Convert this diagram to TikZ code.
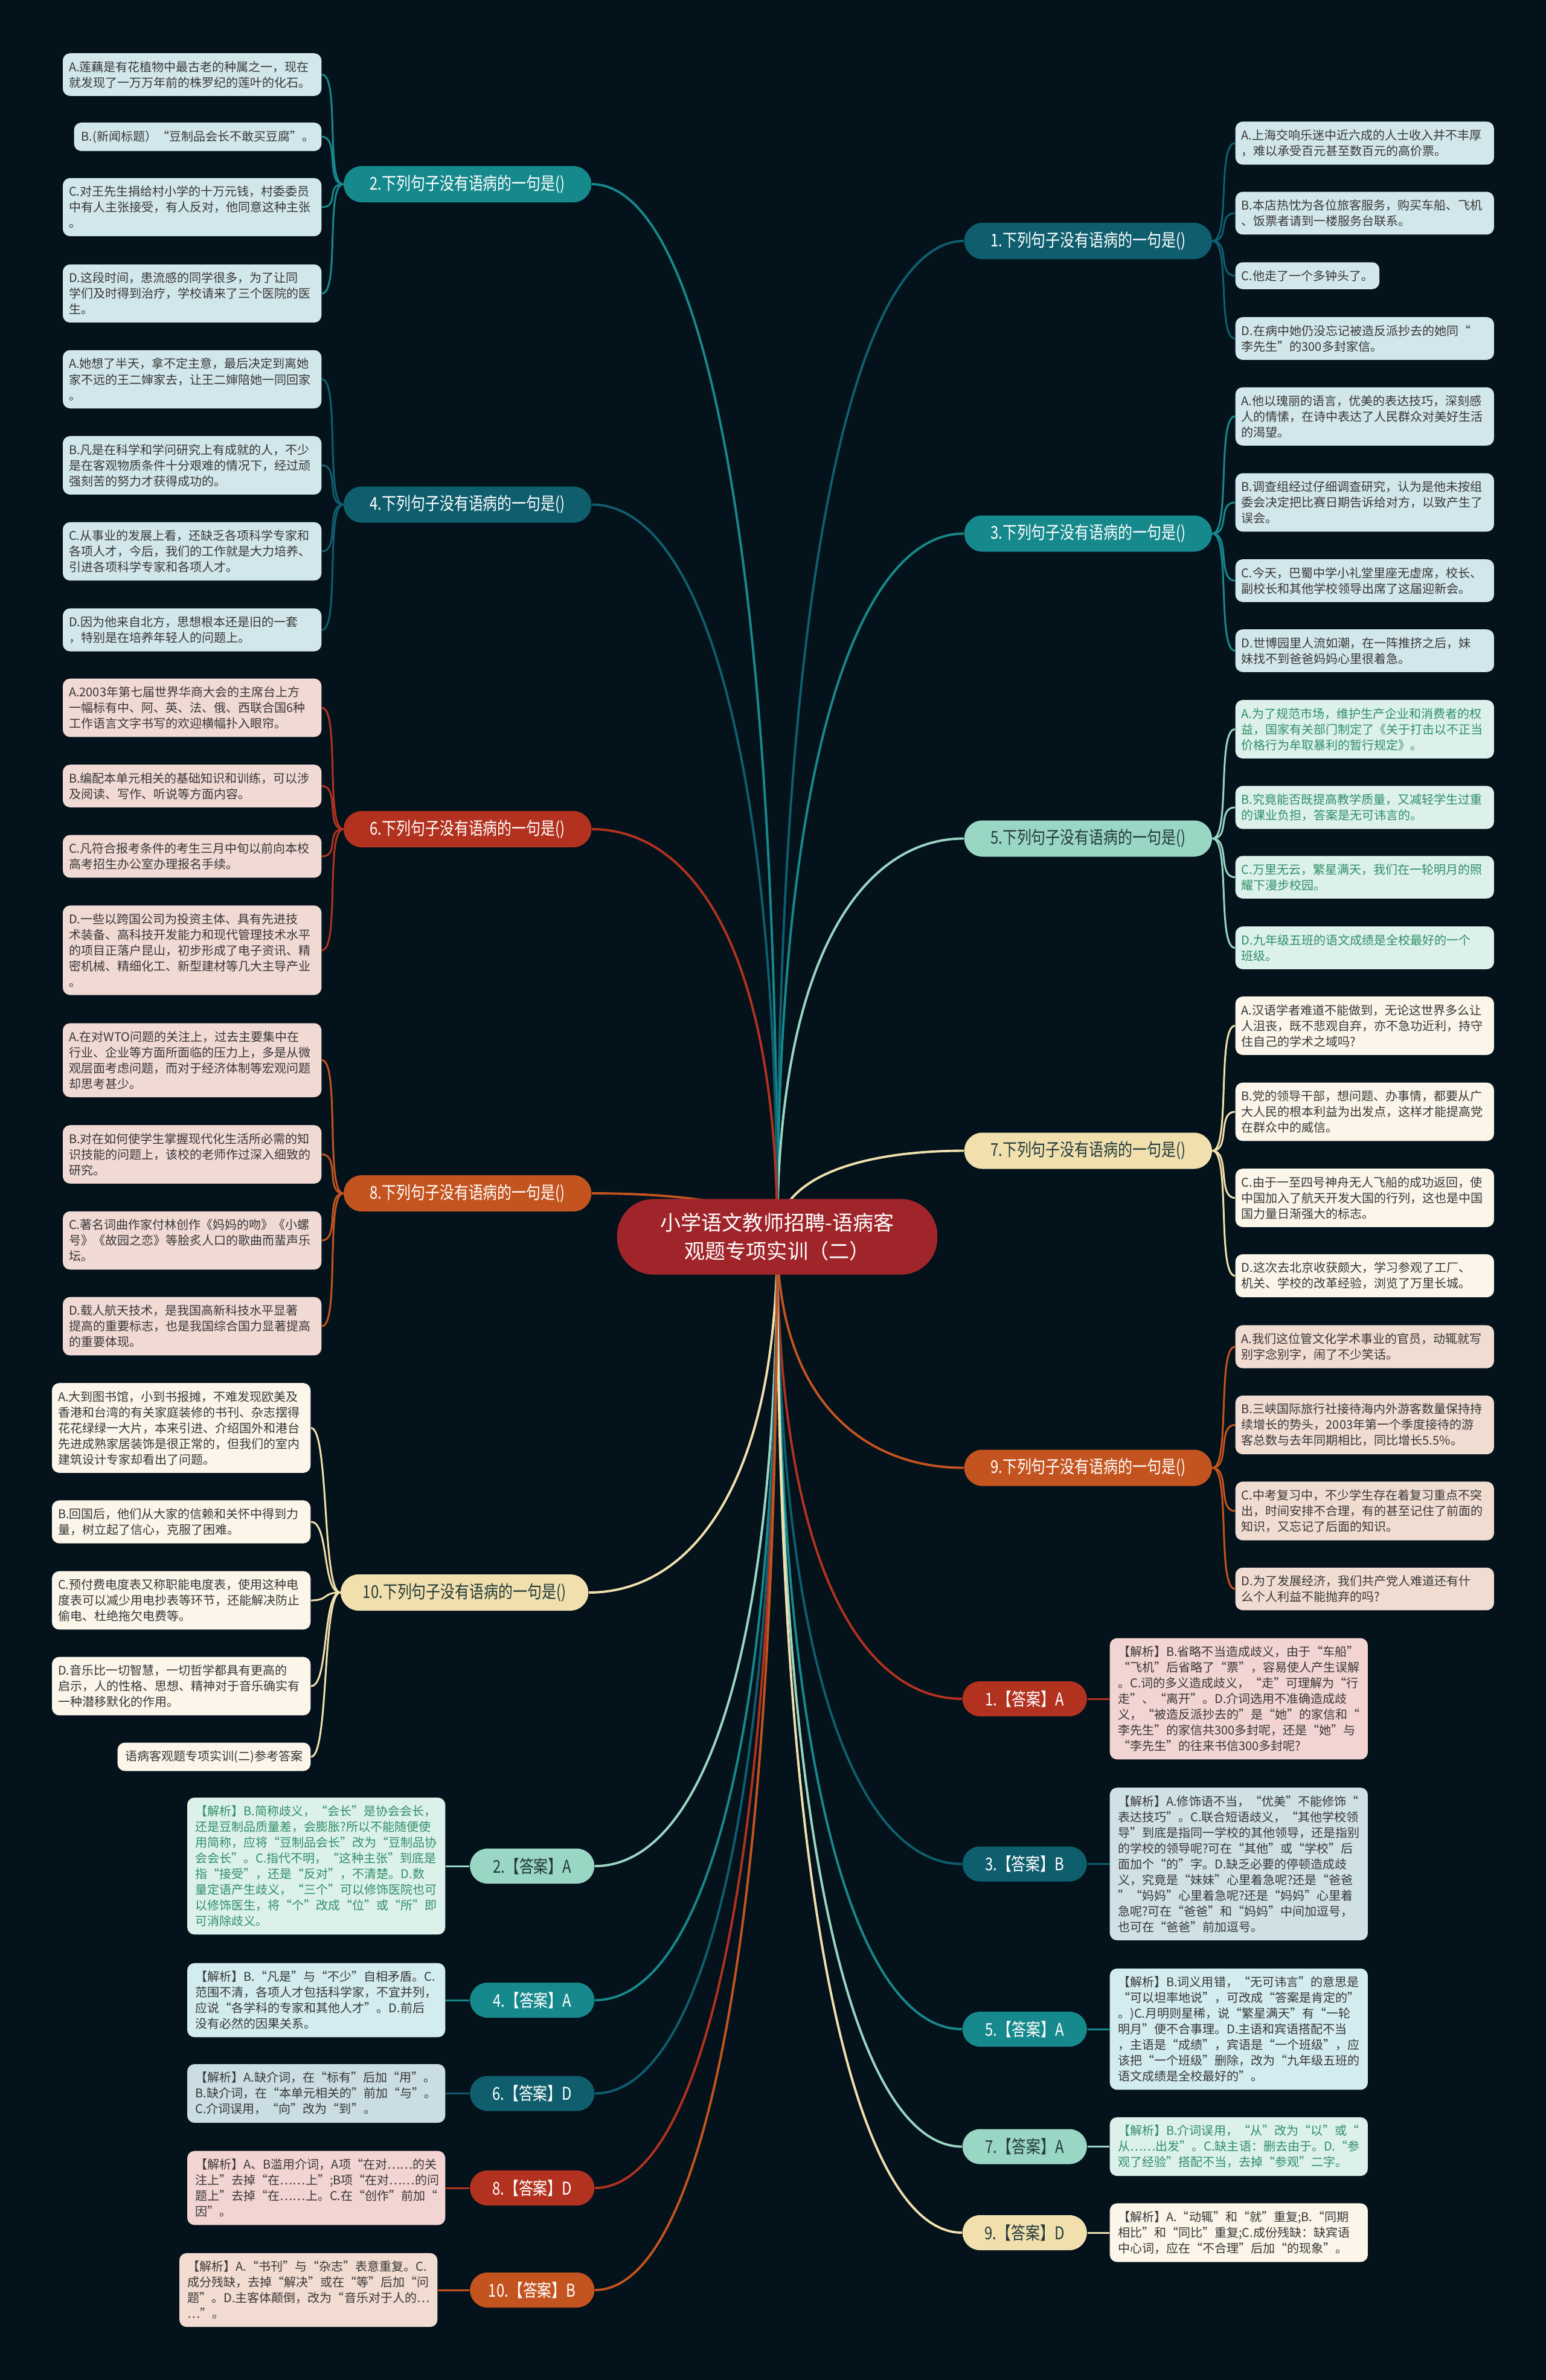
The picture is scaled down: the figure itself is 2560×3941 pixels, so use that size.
\documentclass[tikz,border=0pt]{standalone}
\usepackage{fontspec}
\setmainfont{Noto Sans CJK SC}
\newfontfamily\narrowfont[FakeStretch=0.82]{Noto Sans CJK SC}
\usetikzlibrary{backgrounds}

\definecolor{bgnavy}{HTML}{04121B}
\definecolor{rootred}{HTML}{A0252B}
\definecolor{qdark}{HTML}{0F5E6E}
\definecolor{qteal}{HTML}{16898C}
\definecolor{qmint}{HTML}{9AD6C4}
\definecolor{qbeige}{HTML}{F1E0AE}
\definecolor{qred}{HTML}{B3321F}
\definecolor{qorange}{HTML}{C4541F}
\definecolor{inkdark}{HTML}{243B3A}
\definecolor{inkgrey}{HTML}{383838}
\definecolor{inkgreen}{HTML}{2F8F68}
\definecolor{lfblue}{HTML}{D2E7EB}
\definecolor{lfmint}{HTML}{DDF1EB}
\definecolor{lfpink}{HTML}{F1D9D4}
\definecolor{lfcream}{HTML}{FBF5EA}
\definecolor{lfpeach}{HTML}{F1DCD1}
\definecolor{ntpink}{HTML}{F2D4D2}
\definecolor{ntgrey}{HTML}{CFE1E5}
\definecolor{ntblue}{HTML}{D3ECEF}
\definecolor{ntsteel}{HTML}{C9DDE3}
\definecolor{ntpeach}{HTML}{F2DBD0}

\newcommand{\leaffont}{\fontsize{5.69pt}{7.4pt}\selectfont}
\newcommand{\branchfont}{\narrowfont\fontsize{8.3pt}{10pt}\selectfont}
\newcommand{\rootfont}{\fontsize{9.7pt}{13.4pt}\selectfont}

\begin{document}
\begin{tikzpicture}[x=0.01cm, y=-0.01cm,
  leafbase/.style={rounded corners=0.12cm, inner xsep=0.1cm, inner ysep=0.13cm, align=left, font=\leaffont, text=inkgrey},
  leaf/.style={leafbase, text width=4.08cm},
  note/.style={leafbase, text width=4.0cm, inner xsep=0.135cm},
  branch/.style={rounded corners=0.3cm, minimum width=4.1cm, minimum height=0.6cm, inner xsep=0.15cm, font=\branchfont},
  answer/.style={rounded corners=0.29cm, minimum width=2.06cm, minimum height=0.58cm, font=\branchfont},
  trunk/.style={line width=1.1pt},
  twig/.style={line width=0.85pt}]
  \useasboundingbox (0,0) rectangle (2560,3941);

  % 1. Nút gốc
  \node[fill=rootred, text=white, rounded corners=0.6cm, minimum width=5.3cm, minimum height=1.25cm, align=center, font=\rootfont] (root) at (1287,2048) {小学语文教师招聘-语病客\\观题专项实训（二）};

  % 2. Các câu hỏi bên phải
  \node[branch, fill=qdark, text=white, anchor=west] (q1) at (1596,399) {1.下列句子没有语病的一句是()};
  \node[branch, fill=qteal, text=white, anchor=west] (q3) at (1596,883.5) {3.下列句子没有语病的一句是()};
  \node[branch, fill=qmint, text=inkdark, anchor=west] (q5) at (1596,1388.5) {5.下列句子没有语病的一句是()};
  \node[branch, fill=qbeige, text=inkdark, anchor=west] (q7) at (1596,1905.5) {7.下列句子没有语病的一句是()};
  \node[branch, fill=qorange, text=white, anchor=west] (q9) at (1596,2430.5) {9.下列句子没有语病的一句是()};

  % 3. Các câu hỏi bên trái
  \node[branch, fill=qteal, text=white, anchor=east] (q2) at (980,305) {2.下列句子没有语病的一句是()};
  \node[branch, fill=qdark, text=white, anchor=east] (q4) at (980,835.5) {4.下列句子没有语病的一句是()};
  \node[branch, fill=qred, text=white, anchor=east] (q6) at (980,1373) {6.下列句子没有语病的一句是()};
  \node[branch, fill=qorange, text=white, anchor=east] (q8) at (980,1976) {8.下列句子没有语病的一句是()};
  \node[branch, fill=qbeige, text=inkdark, anchor=east] (q10) at (975,2637) {10.下列句子没有语病的一句是()};

  % 4. Phương án câu 1, 3, 5, 7, 9
  \node[leaf, fill=lfblue, anchor=west] (q1a) at (2045,237) {A.上海交响乐迷中近六成的人士收入并不丰厚\\，难以承受百元甚至数百元的高价票。};
  \node[leaf, fill=lfblue, anchor=west] (q1b) at (2045,353) {B.本店热忱为各位旅客服务，购买车船、飞机\\、饭票者请到一楼服务台联系。};
  \node[leafbase, fill=lfblue, anchor=west] (q1c) at (2045,456.5) {C.他走了一个多钟头了。};
  \node[leaf, fill=lfblue, anchor=west] (q1d) at (2045,560.5) {D.在病中她仍没忘记被造反派抄去的她同“\\李先生”的300多封家信。};
  \node[leaf, fill=lfblue, anchor=west] (q3a) at (2045,689.5) {A.他以瑰丽的语言，优美的表达技巧，深刻感\\人的情愫，在诗中表达了人民群众对美好生活\\的渴望。};
  \node[leaf, fill=lfblue, anchor=west] (q3b) at (2045,832) {B.调查组经过仔细调查研究，认为是他未按组\\委会决定把比赛日期告诉给对方，以致产生了\\误会。};
  \node[leaf, fill=lfblue, anchor=west] (q3c) at (2045,961.5) {C.今天，巴蜀中学小礼堂里座无虚席，校长、\\副校长和其他学校领导出席了这届迎新会。};
  \node[leaf, fill=lfblue, anchor=west] (q3d) at (2045,1077.5) {D.世博园里人流如潮，在一阵推挤之后，妹\\妹找不到爸爸妈妈心里很着急。};
  \node[leaf, fill=lfmint, text=inkgreen, anchor=west] (q5a) at (2045,1207.5) {A.为了规范市场，维护生产企业和消费者的权\\益，国家有关部门制定了《关于打击以不正当\\价格行为牟取暴利的暂行规定》。};
  \node[leaf, fill=lfmint, text=inkgreen, anchor=west] (q5b) at (2045,1337) {B.究竟能否既提高教学质量，又减轻学生过重\\的课业负担，答案是无可讳言的。};
  \node[leaf, fill=lfmint, text=inkgreen, anchor=west] (q5c) at (2045,1452.5) {C.万里无云，繁星满天，我们在一轮明月的照\\耀下漫步校园。};
  \node[leaf, fill=lfmint, text=inkgreen, anchor=west] (q5d) at (2045,1569.5) {D.九年级五班的语文成绩是全校最好的一个\\班级。};
  \node[leaf, fill=lfcream, anchor=west] (q7a) at (2045,1698.5) {A.汉语学者难道不能做到，无论这世界多么让\\人沮丧，既不悲观自弃，亦不急功近利，持守\\住自己的学术之域吗?};
  \node[leaf, fill=lfcream, anchor=west] (q7b) at (2045,1841) {B.党的领导干部，想问题、办事情，都要从广\\大人民的根本利益为出发点，这样才能提高党\\在群众中的威信。};
  \node[leaf, fill=lfcream, anchor=west] (q7c) at (2045,1983.5) {C.由于一至四号神舟无人飞船的成功返回，使\\中国加入了航天开发大国的行列，这也是中国\\国力量日渐强大的标志。};
  \node[leaf, fill=lfcream, anchor=west] (q7d) at (2045,2112.5) {D.这次去北京收获颇大，学习参观了工厂、\\机关、学校的改革经验，浏览了万里长城。};
  \node[leaf, fill=lfpeach, anchor=west] (q9a) at (2045,2230) {A.我们这位管文化学术事业的官员，动辄就写\\别字念别字，闹了不少笑话。};
  \node[leaf, fill=lfpeach, anchor=west] (q9b) at (2045,2359.5) {B.三峡国际旅行社接待海内外游客数量保持持\\续增长的势头，2003年第一个季度接待的游\\客总数与去年同期相比，同比增长5.5\%。};
  \node[leaf, fill=lfpeach, anchor=west] (q9c) at (2045,2502) {C.中考复习中，不少学生存在着复习重点不突\\出，时间安排不合理，有的甚至记住了前面的\\知识，又忘记了后面的知识。};
  \node[leaf, fill=lfpeach, anchor=west] (q9d) at (2045,2631) {D.为了发展经济，我们共产党人难道还有什\\么个人利益不能抛弃的吗?};

  % 5. Phương án câu 2, 4, 6, 8, 10
  \node[leaf, fill=lfblue, anchor=east] (q2a) at (533,123.5) {A.莲藕是有花植物中最古老的种属之一，现在\\就发现了一万万年前的株罗纪的莲叶的化石。};
  \node[leafbase, fill=lfblue, anchor=east, inner xsep=0.12cm] (q2b) at (533,226.5) {B.(新闻标题）“豆制品会长不敢买豆腐”。};
  \node[leaf, fill=lfblue, anchor=east] (q2c) at (533,343) {C.对王先生捐给村小学的十万元钱，村委委员\\中有人主张接受，有人反对，他同意这种主张\\。};
  \node[leaf, fill=lfblue, anchor=east] (q2d) at (533,486) {D.这段时间，患流感的同学很多，为了让同\\学们及时得到治疗，学校请来了三个医院的医\\生。};
  \node[leaf, fill=lfblue, anchor=east] (q4a) at (533,628) {A.她想了半天，拿不定主意，最后决定到离她\\家不远的王二婶家去，让王二婶陪她一同回家\\。};
  \node[leaf, fill=lfblue, anchor=east] (q4b) at (533,770.5) {B.凡是在科学和学问研究上有成就的人，不少\\是在客观物质条件十分艰难的情况下，经过顽\\强刻苦的努力才获得成功的。};
  \node[leaf, fill=lfblue, anchor=east] (q4c) at (533,913) {C.从事业的发展上看，还缺乏各项科学专家和\\各项人才，今后，我们的工作就是大力培养、\\引进各项科学专家和各项人才。};
  \node[leaf, fill=lfblue, anchor=east] (q4d) at (533,1043) {D.因为他来自北方，思想根本还是旧的一套\\，特别是在培养年轻人的问题上。};
  \node[leaf, fill=lfpink, anchor=east] (q6a) at (533,1172) {A.2003年第七届世界华商大会的主席台上方\\一幅标有中、阿、英、法、俄、西联合国6种\\工作语言文字书写的欢迎横幅扑入眼帘。};
  \node[leaf, fill=lfpink, anchor=east] (q6b) at (533,1301.5) {B.编配本单元相关的基础知识和训练，可以涉\\及阅读、写作、听说等方面内容。};
  \node[leaf, fill=lfpink, anchor=east] (q6c) at (533,1418) {C.凡符合报考条件的考生三月中旬以前向本校\\高考招生办公室办理报名手续。};
  \node[leaf, fill=lfpink, anchor=east] (q6d) at (533,1573.5) {D.一些以跨国公司为投资主体、具有先进技\\术装备、高科技开发能力和现代管理技术水平\\的项目正落户昆山，初步形成了电子资讯、精\\密机械、精细化工、新型建材等几大主导产业\\。};
  \node[leaf, fill=lfpink, anchor=east] (q8a) at (533,1755.5) {A.在对WTO问题的关注上，过去主要集中在\\行业、企业等方面所面临的压力上，多是从微\\观层面考虑问题，而对于经济体制等宏观问题\\却思考甚少。};
  \node[leaf, fill=lfpink, anchor=east] (q8b) at (533,1911.5) {B.对在如何使学生掌握现代化生活所必需的知\\识技能的问题上，该校的老师作过深入细致的\\研究。};
  \node[leaf, fill=lfpink, anchor=east] (q8c) at (533,2054) {C.著名词曲作家付林创作《妈妈的吻》《小螺\\号》《故园之恋》等脍炙人口的歌曲而蜚声乐\\坛。};
  \node[leaf, fill=lfpink, anchor=east] (q8d) at (533,2196) {D.载人航天技术，是我国高新科技水平显著\\提高的重要标志，也是我国综合国力显著提高\\的重要体现。};
  \node[leaf, fill=lfcream, anchor=east] (q10a) at (515,2364.5) {A.大到图书馆，小到书报摊，不难发现欧美及\\香港和台湾的有关家庭装修的书刊、杂志摆得\\花花绿绿一大片，本来引进、介绍国外和港台\\先进成熟家居装饰是很正常的，但我们的室内\\建筑设计专家却看出了问题。};
  \node[leaf, fill=lfcream, anchor=east] (q10b) at (515,2520) {B.回国后，他们从大家的信赖和关怀中得到力\\量，树立起了信心，克服了困难。};
  \node[leaf, fill=lfcream, anchor=east] (q10c) at (515,2650) {C.预付费电度表又称职能电度表，使用这种电\\度表可以减少用电抄表等环节，还能解决防止\\偷电、杜绝拖欠电费等。};
  \node[leaf, fill=lfcream, anchor=east] (q10d) at (515,2792) {D.音乐比一切智慧，一切哲学都具有更高的\\启示，人的性格、思想、精神对于音乐确实有\\一种潜移默化的作用。};
  \node[leafbase, fill=lfcream, anchor=east, inner xsep=0.13cm] (q10e) at (515,2909) {语病客观题专项实训(二)参考答案};

  % 6. Đáp án bên phải và lời giải
  \node[answer, fill=qred, text=white, anchor=west] (ans1) at (1593,2813) {1.【答案】A};
  \node[answer, fill=qdark, text=white, anchor=west] (ans3) at (1593,3086.5) {3.【答案】B};
  \node[answer, fill=qteal, text=white, anchor=west] (ans5) at (1593,3360) {5.【答案】A};
  \node[answer, fill=qmint, text=inkdark, anchor=west] (ans7) at (1593,3554.5) {7.【答案】A};
  \node[answer, fill=qbeige, text=inkdark, anchor=west] (ans9) at (1593,3697) {9.【答案】D};
  \node[note, fill=ntpink, anchor=west] (note1) at (1837,2813) {【解析】B.省略不当造成歧义，由于“车船”\\“飞机”后省略了“票”，容易使人产生误解\\。C.词的多义造成歧义，“走”可理解为“行\\走”、“离开”。D.介词选用不准确造成歧\\义，“被造反派抄去的”是“她”的家信和“\\李先生”的家信共300多封呢，还是“她”与\\“李先生”的往来书信300多封呢?};
  \node[note, fill=ntgrey, anchor=west] (note3) at (1837,3086.5) {【解析】A.修饰语不当，“优美”不能修饰“\\表达技巧”。C.联合短语歧义，“其他学校领\\导”到底是指同一学校的其他领导，还是指别\\的学校的领导呢?可在“其他”或“学校”后\\面加个“的”字。D.缺乏必要的停顿造成歧\\义，究竟是“妹妹”心里着急呢?还是“爸爸\\”“妈妈”心里着急呢?还是“妈妈”心里着\\急呢?可在“爸爸”和“妈妈”中间加逗号，\\也可在“爸爸”前加逗号。};
  \node[note, fill=ntblue, anchor=west] (note5) at (1837,3360) {【解析】B.词义用错，“无可讳言”的意思是\\“可以坦率地说”，可改成“答案是肯定的”\\。)C.月明则星稀，说“繁星满天”有“一轮\\明月”便不合事理。D.主语和宾语搭配不当\\，主语是“成绩”，宾语是“一个班级”，应\\该把“一个班级”删除，改为“九年级五班的\\语文成绩是全校最好的”。};
  \node[note, fill=lfmint, text=inkgreen, anchor=west] (note7) at (1837,3554.5) {【解析】B.介词误用，“从”改为“以”或“\\从……出发”。C.缺主语：删去由于。D.“参\\观了经验”搭配不当，去掉“参观”二字。};
  \node[note, fill=lfcream, anchor=west] (note9) at (1837,3697) {【解析】A.“动辄”和“就”重复;B.“同期\\相比”和“同比”重复;C.成份残缺：缺宾语\\中心词，应在“不合理”后加“的现象”。};

  % 7. Đáp án bên trái và lời giải
  \node[answer, fill=qmint, text=inkdark, anchor=east] (ans2) at (985,3090) {2.【答案】A};
  \node[answer, fill=qteal, text=white, anchor=east] (ans4) at (985,3312) {4.【答案】A};
  \node[answer, fill=qdark, text=white, anchor=east] (ans6) at (985,3466.5) {6.【答案】D};
  \node[answer, fill=qred, text=white, anchor=east] (ans8) at (985,3623) {8.【答案】D};
  \node[answer, fill=qorange, text=white, anchor=east] (ans10) at (985,3792) {10.【答案】B};
  \node[note, fill=lfmint, text=inkgreen, anchor=east] (note2) at (738,3090) {【解析】B.简称歧义，“会长”是协会会长，\\还是豆制品质量差，会膨胀?所以不能随便使\\用简称，应将“豆制品会长”改为“豆制品协\\会会长”。C.指代不明，“这种主张”到底是\\指“接受”，还是“反对”，不清楚。D.数\\量定语产生歧义，“三个”可以修饰医院也可\\以修饰医生，将“个”改成“位”或“所”即\\可消除歧义。};
  \node[note, fill=ntblue, anchor=east] (note4) at (738,3312) {【解析】B.“凡是”与“不少”自相矛盾。C.\\范围不清，各项人才包括科学家，不宜并列，\\应说“各学科的专家和其他人才”。D.前后\\没有必然的因果关系。};
  \node[note, fill=ntsteel, anchor=east] (note6) at (738,3466.5) {【解析】A.缺介词，在“标有”后加“用”。\\B.缺介词，在“本单元相关的”前加“与”。\\C.介词误用，“向”改为“到”。};
  \node[note, fill=ntpink, anchor=east] (note8) at (738,3623) {【解析】A、B滥用介词，A项“在对……的关\\注上”去掉“在……上”;B项“在对……的问\\题上”去掉“在……上。C.在“创作”前加“\\因”。};
  \node[note, fill=ntpeach, anchor=east] (note10) at (725,3792) {【解析】A.“书刊”与“杂志”表意重复。C.\\成分残缺，去掉“解决”或在“等”后加“问\\题”。D.主客体颠倒，改为“音乐对于人的…\\…”。};

  % 8. Các đường nối (lớp nền)
  \begin{pgfonlayer}{background}
    \fill[bgnavy] (0,0) rectangle (2560,3941);
    % gốc -> câu hỏi
    \draw[trunk, qdark] (root.center) .. controls +(0,-1154) and +(-168,0) .. (q1.west);
    \draw[trunk, qteal] (root.center) .. controls +(0,-815) and +(-168,0) .. (q3.west);
    \draw[trunk, qmint] (root.center) .. controls +(0,-462) and +(-168,0) .. (q5.west);
    \draw[trunk, qbeige] (root.center) .. controls +(0,-100) and +(-168,0) .. (q7.west);
    \draw[trunk, qorange] (root.center) .. controls +(0,268) and +(-168,0) .. (q9.west);
    \draw[trunk, qteal] (root.center) .. controls +(0,-1220) and +(168,0) .. (q2.east);
    \draw[trunk, qdark] (root.center) .. controls +(0,-849) and +(168,0) .. (q4.east);
    \draw[trunk, qred] (root.center) .. controls +(0,-472) and +(168,0) .. (q6.east);
    \draw[trunk, qorange] (root.center) .. controls +(0,-50) and +(168,0) .. (q8.east);
    \draw[trunk, qbeige] (root.center) .. controls +(0,412) and +(168,0) .. (q10.east);
    % gốc -> đáp án
    \draw[trunk, qred] (root.center) .. controls +(0,536) and +(-168,0) .. (ans1.west);
    \draw[trunk, qdark] (root.center) .. controls +(0,727) and +(-168,0) .. (ans3.west);
    \draw[trunk, qteal] (root.center) .. controls +(0,918) and +(-168,0) .. (ans5.west);
    \draw[trunk, qmint] (root.center) .. controls +(0,1055) and +(-168,0) .. (ans7.west);
    \draw[trunk, qbeige] (root.center) .. controls +(0,1154) and +(-168,0) .. (ans9.west);
    \draw[trunk, qmint] (root.center) .. controls +(0,729) and +(168,0) .. (ans2.east);
    \draw[trunk, qteal] (root.center) .. controls +(0,885) and +(168,0) .. (ans4.east);
    \draw[trunk, qdark] (root.center) .. controls +(0,993) and +(168,0) .. (ans6.east);
    \draw[trunk, qred] (root.center) .. controls +(0,1102) and +(168,0) .. (ans8.east);
    \draw[trunk, qorange] (root.center) .. controls +(0,1221) and +(168,0) .. (ans10.east);
    % câu hỏi -> phương án
    \foreach \l in {a,b,c,d} {
      \draw[twig, qdark] (q1.east) .. controls +(30,0) and +(-30,0) .. (q1\l.west);
      \draw[twig, qteal] (q3.east) .. controls +(30,0) and +(-30,0) .. (q3\l.west);
      \draw[twig, qmint] (q5.east) .. controls +(30,0) and +(-30,0) .. (q5\l.west);
      \draw[twig, qbeige] (q7.east) .. controls +(30,0) and +(-30,0) .. (q7\l.west);
      \draw[twig, qorange] (q9.east) .. controls +(30,0) and +(-30,0) .. (q9\l.west);
      \draw[twig, qteal] (q2.west) .. controls +(-30,0) and +(30,0) .. (q2\l.east);
      \draw[twig, qdark] (q4.west) .. controls +(-30,0) and +(30,0) .. (q4\l.east);
      \draw[twig, qred] (q6.west) .. controls +(-30,0) and +(30,0) .. (q6\l.east);
      \draw[twig, qorange] (q8.west) .. controls +(-30,0) and +(30,0) .. (q8\l.east);
    }
    \foreach \l in {a,b,c,d,e}
      \draw[twig, qbeige] (q10.west) .. controls +(-30,0) and +(30,0) .. (q10\l.east);
    % đáp án -> lời giải
    \draw[twig, qred] (ans1.east) -- (note1.west);
    \draw[twig, qdark] (ans3.east) -- (note3.west);
    \draw[twig, qteal] (ans5.east) -- (note5.west);
    \draw[twig, qmint] (ans7.east) -- (note7.west);
    \draw[twig, qbeige] (ans9.east) -- (note9.west);
    \draw[twig, qmint] (ans2.west) -- (note2.east);
    \draw[twig, qteal] (ans4.west) -- (note4.east);
    \draw[twig, qdark] (ans6.west) -- (note6.east);
    \draw[twig, qred] (ans8.west) -- (note8.east);
    \draw[twig, qorange] (ans10.west) -- (note10.east);
  \end{pgfonlayer}
\end{tikzpicture}
\end{document}
